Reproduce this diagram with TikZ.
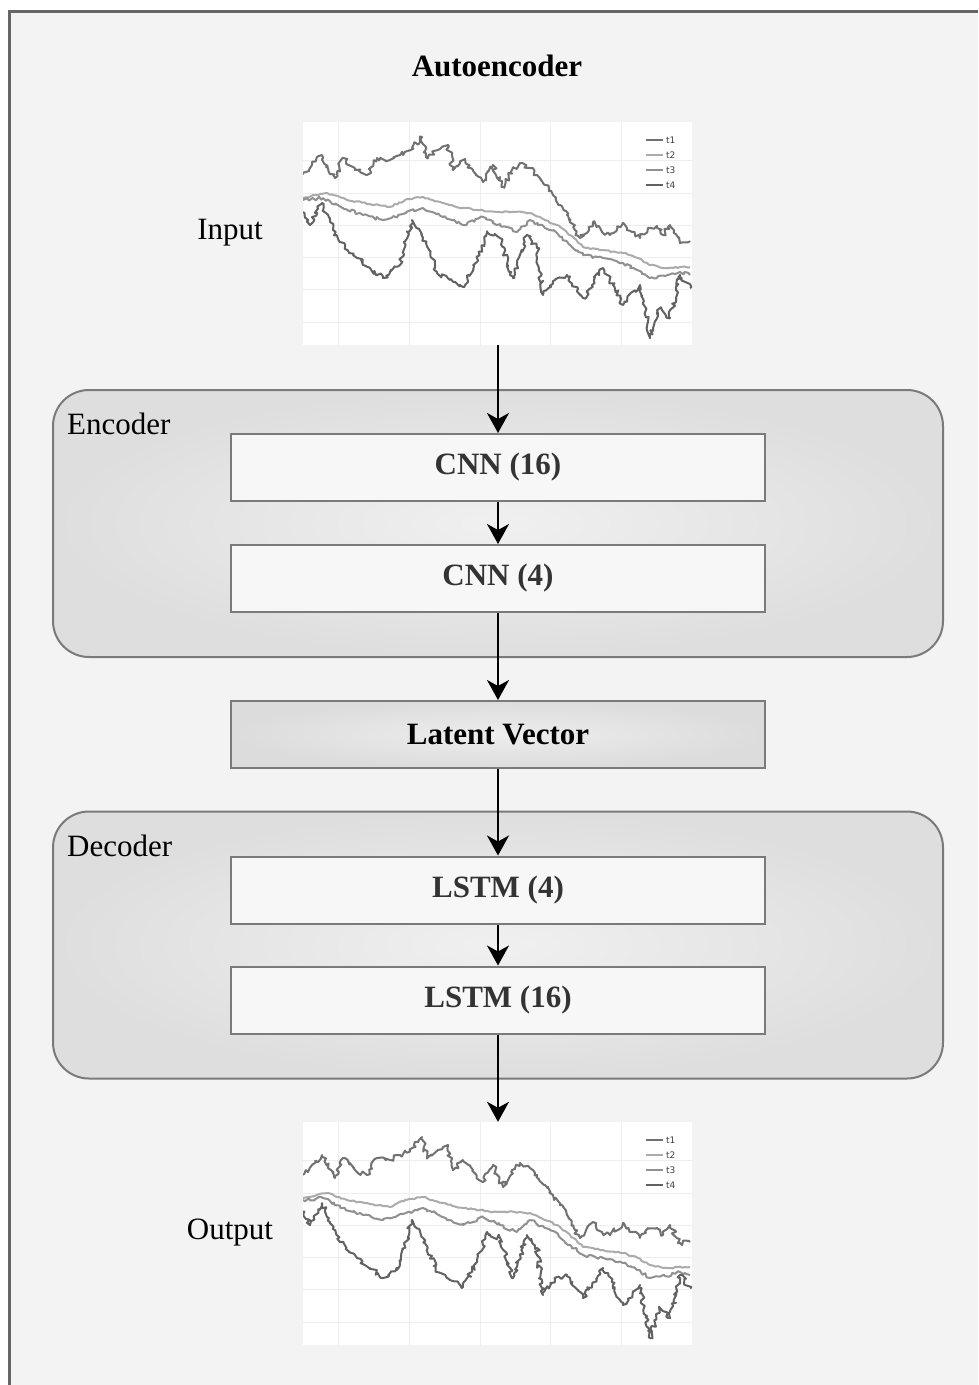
\documentclass[tikz,border=0pt]{standalone}
\usepackage{fontspec}
\setmainfont{Liberation Serif}
\newfontfamily\legfont{DejaVu Sans}
\usetikzlibrary{arrows.meta,decorations.pathmorphing}
\definecolor{pagebg}{HTML}{F3F3F3}
\definecolor{framegray}{HTML}{666666}
\definecolor{boxline}{HTML}{7A7A7A}
\definecolor{grpin}{HTML}{F0F0F0}
\definecolor{grpout}{HTML}{DEDEDE}
\definecolor{latin}{HTML}{EDEDED}
\definecolor{latout}{HTML}{DCDCDC}
\definecolor{layerfill}{HTML}{F7F7F7}
\definecolor{layertext}{HTML}{333333}
\definecolor{gridc}{HTML}{EEEEEE}
\definecolor{sone}{HTML}{717171}
\definecolor{stwo}{HTML}{ABABAB}
\definecolor{sthree}{HTML}{909090}
\definecolor{sfour}{HTML}{626262}
\tikzset{
 bigfont/.style={font=\fontsize{31}{36}\selectfont},
 groupbox/.style={draw=boxline, line width=2pt, rounded corners=36pt, inner color=grpin, outer color=grpout, minimum width=890pt, minimum height=267pt, inner sep=0pt},
 layerbox/.style={draw=boxline, line width=2pt, fill=layerfill, minimum width=534pt, minimum height=67pt, inner sep=0pt, text=layertext, font=\fontsize{31}{36}\selectfont\bfseries},
 latentbox/.style={layerbox, text=black, inner color=latin, outer color=latout},
 flow/.style={draw=black, line width=2pt, -{Stealth[length=20pt,width=22pt,inset=6pt]}},
 chartbox/.style={fill=white, draw=none, minimum width=389pt, minimum height=223pt, inner sep=0pt},
 ser/.style={line width=2pt, line join=round, decorate, decoration={random steps, segment length=2.5pt, amplitude=#1}},
 legline/.style={line width=1.2pt},
 legtext/.style={font=\legfont\fontsize{9}{10}\selectfont, text=black!75, anchor=west, inner sep=0pt},
}
\newcommand\chartcontent[2]{%
 \node[chartbox] (#1) at (497.5,233.5) {};
 \foreach \gx in {338,409,480,550,621} \draw[gridc,line width=1pt] (\gx,122) -- (\gx,345);
 \foreach \gy in {160,193,225,257,289,322} \draw[gridc,line width=1pt] (303,\gy) -- (692,\gy);
 \begin{scope}
 \clip (303,122) rectangle (692,345);
 \pgfmathsetseed{#2}
 \draw[ser=0.8pt, stwo] (303,198) -- (327,193) -- (347,200) -- (370,204) -- (390,207) -- (405,200) -- (423,197) -- (443,203) -- (463,208) -- (480,210) -- (497,212) -- (515,212) -- (530,213) -- (545,220) -- (557,225) -- (570,235) -- (583,247) -- (603,250) -- (623,253) -- (638,258) -- (650,265) -- (663,268) -- (690,267);
 \draw[ser=1.6pt, sthree] (303,200) -- (323,198) -- (343,208) -- (363,215) -- (383,220) -- (403,214) -- (423,208) -- (443,217) -- (463,225) -- (483,217) -- (500,225) -- (517,232) -- (530,220) -- (545,228) -- (557,233) -- (570,245) -- (583,255) -- (603,258) -- (623,263) -- (637,270) -- (650,278) -- (665,276) -- (680,272) -- (690,275);
 \draw[ser=2.5pt, sone] (303,175) -- (312,165) -- (322,155) -- (328,168) -- (335,178) -- (343,158) -- (355,170) -- (367,175) -- (377,158) -- (390,160) -- (400,155) -- (412,148) -- (422,137) -- (427,158) -- (438,150) -- (448,145) -- (453,170) -- (463,160) -- (473,170) -- (483,182) -- (493,165) -- (503,187) -- (512,170) -- (520,163) -- (530,168) -- (537,175) -- (545,185) -- (553,195) -- (560,205) -- (567,215) -- (575,230) -- (580,238) -- (593,222) -- (602,232) -- (610,235) -- (623,223) -- (632,232) -- (640,238) -- (648,228) -- (657,228) -- (663,235) -- (670,225) -- (680,243) -- (690,242);
 \draw[ser=2.5pt, sfour] (303,212) -- (310,225) -- (322,203) -- (330,222) -- (340,242) -- (357,258) -- (370,268) -- (383,278) -- (400,265) -- (412,220) -- (423,238) -- (437,272) -- (450,280) -- (463,287) -- (477,262) -- (487,232) -- (500,238) -- (513,278) -- (527,235) -- (537,248) -- (543,295) -- (555,280) -- (567,275) -- (583,298) -- (603,268) -- (613,285) -- (623,305) -- (640,285) -- (650,338) -- (660,308) -- (670,318) -- (680,275) -- (690,288);
 \end{scope}
 \draw[legline, sone] (646,140) -- (663,140); \node[legtext] at (666,140) {t1};
 \draw[legline, stwo] (646,155) -- (663,155); \node[legtext] at (666,155) {t2};
 \draw[legline, sthree] (646,170) -- (663,170); \node[legtext] at (666,170) {t3};
 \draw[legline, sfour] (646,185) -- (663,185); \node[legtext] at (666,185) {t4};
}
\begin{document}
\begin{tikzpicture}[x=1pt,y=-1pt]
\useasboundingbox (0,0) rectangle (978,1385);
\fill[white] (0,0) rectangle (978,1385);
\fill[pagebg] (9,11) rectangle (978,1385);
\draw[framegray, line width=2.5pt] (9.5,1385) -- (9.5,11.5) -- (978,11.5);

\node[font=\fontsize{31}{36}\selectfont\bfseries] (title) at (497,66) {Autoencoder};

\chartcontent{inchart}{7}
\node[bigfont] (inlabel) at (230,233) {Input};

\node[groupbox] (enc) at (498,523.5) {};
\node[bigfont, anchor=west, inner sep=0pt] (enclabel) at (67,424) {Encoder};
\node[layerbox] (cnn16) at (498,467.5) {CNN (16)};
\node[layerbox] (cnn4) at (498,578.5) {CNN (4)};

\node[latentbox] (latent) at (498,734.5) {Latent Vector};

\node[groupbox] (dec) at (498,945) {};
\node[bigfont, anchor=west, inner sep=0pt] (declabel) at (67,846) {Decoder};
\node[layerbox] (lstm4) at (498,890) {LSTM (4)};
\node[layerbox] (lstm16) at (498,1000) {LSTM (16)};

\begin{scope}[shift={(0,1000)}]
\chartcontent{outchart}{11}
\end{scope}
\node[bigfont] (outlabel) at (230,1233) {Output};

\draw[flow] (inchart.south -| cnn16.north) -- (cnn16.north);
\draw[flow] (cnn16.south) -- (cnn4.north);
\draw[flow] (cnn4.south) -- (latent.north);
\draw[flow] (latent.south) -- (lstm4.north);
\draw[flow] (lstm4.south) -- (lstm16.north);
\draw[flow] (lstm16.south) -- (lstm16.south |- outchart.north);
\end{tikzpicture}
\end{document}
